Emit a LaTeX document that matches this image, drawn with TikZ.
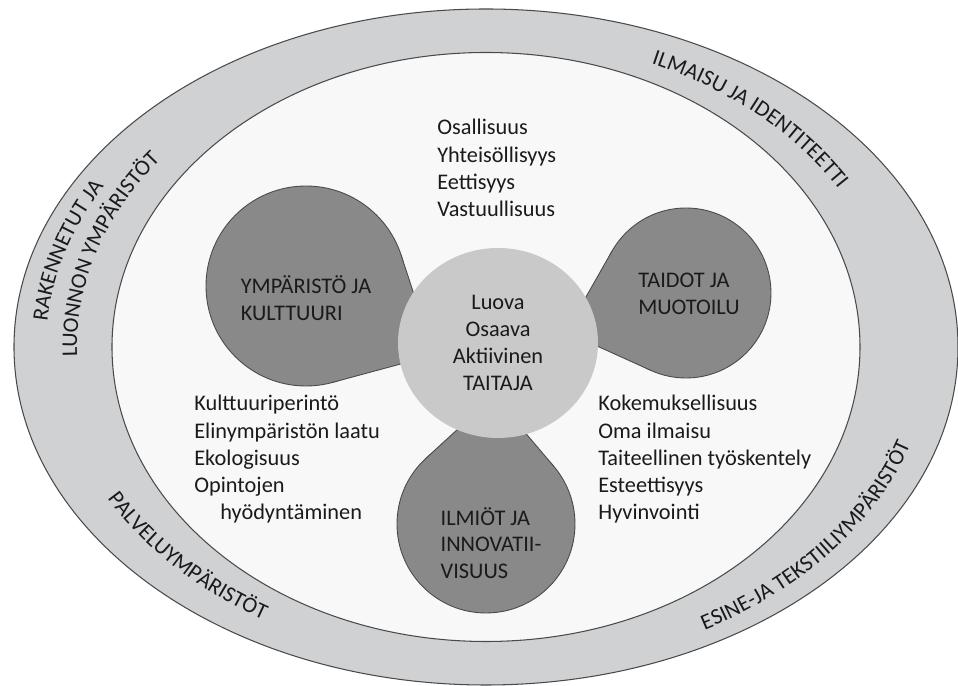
\documentclass[tikz,border=0pt]{standalone}
\usepackage{fontspec}
\setmainfont{Carlito}
\usepackage{xcolor}
\usetikzlibrary{
    calc,
    shapes.geometric,
    decorations.text,
}
\definecolor{ringgray}{HTML}{D0D1D3}
\definecolor{innerwhite}{HTML}{F8F8F8}
\definecolor{blobgray}{HTML}{898989}
\definecolor{coregray}{HTML}{C9C9C9}
\definecolor{linegray}{HTML}{4A4A4A}
\definecolor{inkblack}{HTML}{1A1A1A}
\newcommand{\ringfont}{\fontsize{12.7}{15}\selectfont}
\tikzset{
    % Ring and blob styles
    ring/.style={draw=linegray, line width=0.6pt},
    blob/.style={circle, fill=blobgray, draw=linegray, line width=0.5pt,
                 inner sep=0pt, outer sep=0pt},
    blob edge/.style={draw=linegray, line width=0.5pt},
    core/.style={ellipse, fill=coregray, minimum width=4cm, minimum height=3.8cm,
                 inner sep=0pt, align=center, text=inkblack,
                 font=\fontsize{12.7}{15.5}\selectfont},
    % Text styles
    item list/.style={align=left, anchor=west, inner sep=0pt, text=inkblack,
                      font=\fontsize{12.7}{15.5}\selectfont},
    blob label/.style={align=left, inner sep=0pt, text=inkblack,
                       font=\fontsize{12.7}{15}\selectfont},
    ring label/.style={decorate, decoration={text along path, text align=center,
                       text color=inkblack}},
}

\begin{document}
\begin{tikzpicture}
    \useasboundingbox (-9.72,-6.78) rectangle (9.44,6.94);

    % Rings
    \draw[ring, fill=ringgray] (0,0) ellipse [x radius=9.44, y radius=6.76];
    \draw[ring, fill=innerwhite] (0,0) ellipse [x radius=7.48, y radius=5.89];

    % Blobs
    \node[blob, minimum size=4cm] (envc) at (-3.6,1.22) {};
    \node[blob, minimum size=3.4cm] (skillc) at (4.0,1.08) {};
    \node[blob, minimum size=3.56cm] (phenc) at (0,-3.54) {};
    \coordinate (envtip) at (-1.04,-0.16);
    \coordinate (skilltip) at (1.6,0.3);
    \coordinate (phentip) at (0.16,-0.98);
    \foreach \c/\t in {envc/envtip, skillc/skilltip, phenc/phentip} {
        \fill[blobgray] (\t) -- (tangent cs:node=\c,point={(\t)},solution=1)
            -- (tangent cs:node=\c,point={(\t)},solution=2) -- cycle;
        \draw[blob edge] (tangent cs:node=\c,point={(\t)},solution=1) -- (\t)
            -- (tangent cs:node=\c,point={(\t)},solution=2);
    }

    % Centre
    \node[core] (core) at (0.24,0.08) {Luova\\Osaava\\Aktiivinen\\TAITAJA};

    % Blob labels
    \node[blob label] (envtxt) at (-3.6,0.98) {YMPÄRISTÖ JA\\KULTTUURI};
    \node[blob label] (skilltxt) at (4.06,1.06) {TAIDOT JA\\MUOTOILU};
    \node[blob label] (phentxt) at (0.1,-3.92) {ILMIÖT JA\\INNOVATII-\\VISUUS};

    % Lists
    \node[item list] (values) at (-0.98,3.58)
        {Osallisuus\\Yhteisöllisyys\\Eettisyys\\Vastuullisuus};
    \node[item list] (heritage) at (-5.84,-2.25)
        {Kulttuuriperintö\\Elinympäristön laatu\\Ekologisuus\\Opintojen\\\hspace*{0.52cm}hyödyntäminen};
    \node[item list] (experience) at (2.24,-2.25)
        {Kokemuksellisuus\\Oma ilmaisu\\Taiteellinen työskentely\\Esteettisyys\\Hyvinvointi};

    % Ring labels
    \path[ring label, decoration={text={|\ringfont|ILMAISU JA IDENTITEETTI}}]
        (71:8.2 and 6.2) arc[start angle=71, end angle=25, x radius=8.2, y radius=6.2];
    \path[ring label, decoration={text={|\ringfont|ESINE-JA TEKSTIILIYMPÄRISTÖT}}]
        (-68:8.9 and 6.5) arc[start angle=-68, end angle=-8, x radius=8.9, y radius=6.5];
    \path[ring label, decoration={text={|\ringfont|PALVELUYMPÄRISTÖT}}]
        (-168:8.6 and 6.38) arc[start angle=-168, end angle=-108, x radius=8.6, y radius=6.38];
    \path[ring label, decoration={text={|\ringfont|RAKENNETUT JA}}]
        (194:8.8 and 6.47) arc[start angle=194, end angle=134, x radius=8.8, y radius=6.47];
    \path[ring label, decoration={text={|\ringfont|LUONNON YMPÄRISTÖT}}]
        (193:8.18 and 6.19) arc[start angle=193, end angle=133, x radius=8.18, y radius=6.19];
\end{tikzpicture}
\end{document}
